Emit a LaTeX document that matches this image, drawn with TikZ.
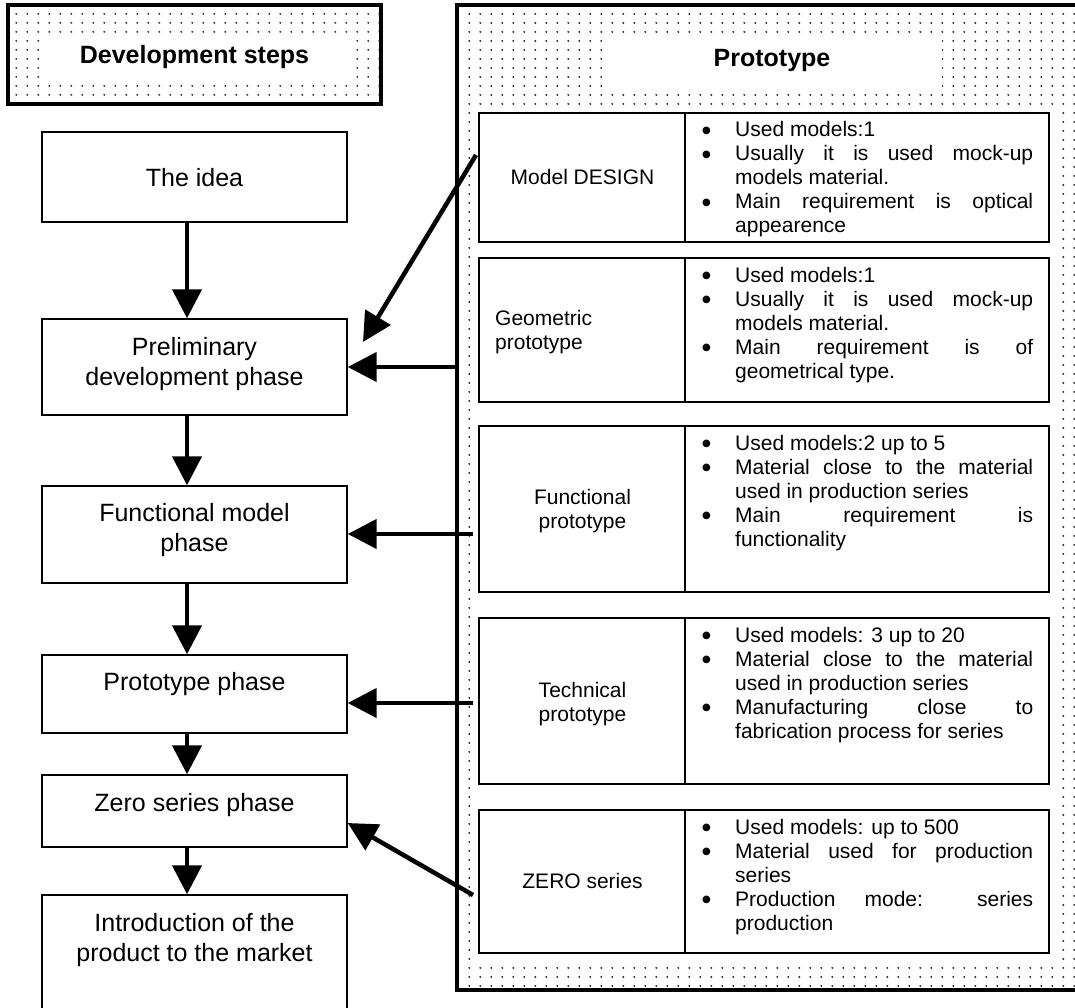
\documentclass[tikz,border=0pt]{standalone}
\usepackage{fontspec}
\setmainfont{Liberation Sans}
\newfontfamily\symfont{DejaVu Sans}
\usetikzlibrary{arrows.meta,patterns.meta}
\tikzdeclarepattern{
  name=wdots,
  type=uncolored,
  bounding box={(0pt,0pt) and (10.8pt,9pt)},
  tile size={(10.8pt,9pt)},
  code={\pgfpathcircle{\pgfqpoint{5.4pt}{4.5pt}}{1.1pt}\pgfusepath{fill}}
}
\newcommand\bulletmark{{\symfont\fontsize{10}{12}\selectfont\raisebox{3.5pt}{●}}}
\newcommand\itemJ[1]{\noindent\makebox[35pt][l]{\hspace{2pt}\bulletmark}\makebox[298pt][s]{#1}\par}
\newcommand\itemL[1]{\noindent\makebox[35pt][l]{\hspace{2pt}\bulletmark}#1\par}
\newcommand\contJ[1]{\noindent\hspace*{35pt}\makebox[298pt][s]{#1}\par}
\newcommand\contL[1]{\noindent\hspace*{35pt}#1\par}
\newcommand\blist[1]{\parbox[t]{340pt}{\fontsize{21}{24}\selectfont\setlength{\parskip}{0pt}#1}}
\begin{document}
\begin{tikzpicture}[x=1pt,y=-1pt,
  stepbox/.style={draw, line width=1.4pt, rectangle, inner sep=0pt, minimum width=305pt},
  steptext/.style={font=\fontsize{25}{30}\selectfont, inner sep=0pt, anchor=base},
  tabbox/.style={draw, line width=2pt, rectangle, inner sep=0pt, minimum width=570pt},
  divline/.style={line width=2pt},
  lbl/.style={font=\fontsize{21}{24}\selectfont, inner sep=0pt, anchor=base},
  listnode/.style={inner sep=0pt, anchor=base west},
  bigarrow/.style={line width=4.5pt, -{Triangle[length=29pt,width=29pt]}},
  framebox/.style={line width=4.5pt, pattern=wdots, pattern color=black!85},
  hdr/.style={font=\fontsize{25}{30}\selectfont\bfseries, inner sep=0pt}
]
\fill[white] (0,0) rectangle (1075,1008);
\useasboundingbox (0,0) rectangle (1075,1008);

% header frames
\filldraw[framebox] (8,5) rectangle (381,104);
\fill[white] (43,33) rectangle (350,80);
\node[hdr] (hdev) at (194.5,57.5) {Development steps};

\filldraw[framebox] (457,5) rectangle (1090,990);
\fill[white] (602,33) rectangle (942,91);
\fill[white] (476,106) rectangle (1062,963);
\node[hdr] (hproto) at (772,60) {Prototype};

% left steps
\node[stepbox, minimum height=90pt] (idea) at (194.5,177) {};
\node[steptext] (ideat) at (194.5,187) {The idea};
\node[stepbox, minimum height=96pt] (prelim) at (194.5,367) {};
\node[steptext] (prelimt) at (194.5,355) {\begin{tabular}[t]{@{}c@{}}Preliminary\\development phase\end{tabular}};
\node[stepbox, minimum height=97pt] (func) at (194.5,534.5) {};
\node[steptext] (funct) at (194.5,521) {\begin{tabular}[t]{@{}c@{}}Functional model\\phase\end{tabular}};
\node[stepbox, minimum height=78pt] (proto) at (194.5,694) {};
\node[steptext] (protot) at (194.5,690) {Prototype phase};
\node[stepbox, minimum height=72pt] (zero) at (194.5,811) {};
\node[steptext] (zerot) at (194.5,811) {Zero series phase};
\node[stepbox, minimum height=145pt] (intro) at (194.5,967.5) {};
\node[steptext] (introt) at (194.5,931) {\begin{tabular}[t]{@{}c@{}}Introduction of the\\product to the market\end{tabular}};

% tables
\node[tabbox, minimum height=129pt] (t1) at (764,177.5) {};
\node[tabbox, minimum height=144pt] (t2) at (764,330) {};
\node[tabbox, minimum height=166pt] (t3) at (764,509) {};
\node[tabbox, minimum height=166pt] (t4) at (764,701) {};
\node[tabbox, minimum height=143pt] (t5) at (764,881.5) {};
\foreach \t in {t1,t2,t3,t4,t5}{
  \draw[divline] ([xshift=207pt]\t.north west) -- ([xshift=207pt]\t.south west);
}

\node[lbl] (l1) at (582.5,185) {Model DESIGN};
\node[lbl, anchor=base west] (l2) at (495,325) {\begin{tabular}[t]{@{}l@{}}Geometric\\prototype\end{tabular}};
\node[lbl] (l3) at (582.5,504) {\begin{tabular}[t]{@{}c@{}}Functional\\prototype\end{tabular}};
\node[lbl] (l4) at (582.5,697) {\begin{tabular}[t]{@{}c@{}}Technical\\prototype\end{tabular}};
\node[lbl] (l5) at (582.5,888) {ZERO series};

\node[listnode] (b1) at (700,137) {\blist{%
\itemL{Used models:1}
\itemJ{Usually it is used mock-up}
\contL{models material.}
\itemJ{Main requirement is optical}
\contL{appearence}}};
\node[listnode] (b2) at (700,282) {\blist{%
\itemL{Used models:1}
\itemJ{Usually it is used mock-up}
\contL{models material.}
\itemJ{Main requirement is of}
\contL{geometrical type.}}};
\node[listnode] (b3) at (700,450) {\blist{%
\itemL{Used models:2 up to 5}
\itemJ{Material close to the material}
\contL{used in production series}
\itemJ{Main requirement is}
\contL{functionality}}};
\node[listnode] (b4) at (700,642) {\blist{%
\itemL{Used models: 3 up to 20}
\itemJ{Material close to the material}
\contL{used in production series}
\itemJ{Manufacturing close to}
\contL{fabrication process for series}}};
\node[listnode] (b5) at (700,834) {\blist{%
\itemL{Used models: up to 500}
\itemJ{Material used for production}
\contL{series}
\itemJ{Production mode: series}
\contL{production}}};

% vertical arrows
\draw[bigarrow] ([xshift=-7.5pt]idea.south) -- ([xshift=-7.5pt]prelim.north);
\draw[bigarrow] ([xshift=-7.5pt]prelim.south) -- ([xshift=-7.5pt]func.north);
\draw[bigarrow] ([xshift=-7.5pt]func.south) -- ([xshift=-7.5pt]proto.north);
\draw[bigarrow] ([xshift=-7.5pt]proto.south) -- ([xshift=-7.5pt]zero.north);
\draw[bigarrow] ([xshift=-7.5pt]zero.south) -- ([xshift=-7.5pt]intro.north);

% arrows from prototypes
\coordinate (c1) at (476,155);
\coordinate (c1t) at (363,342);
\draw[bigarrow] (c1) -- (c1t);
\coordinate (c2) at (457,367);
\draw[bigarrow] (c2) -- (c2 -| prelim.east);
\coordinate (c3) at (473,534);
\draw[bigarrow] (c3) -- (c3 -| func.east);
\coordinate (c4) at (473,703);
\draw[bigarrow] (c4) -- (c4 -| proto.east);
\coordinate (c5) at (473,895);
\draw[bigarrow] (c5) -- ([yshift=-12pt]zero.east);
\end{tikzpicture}
\end{document}
